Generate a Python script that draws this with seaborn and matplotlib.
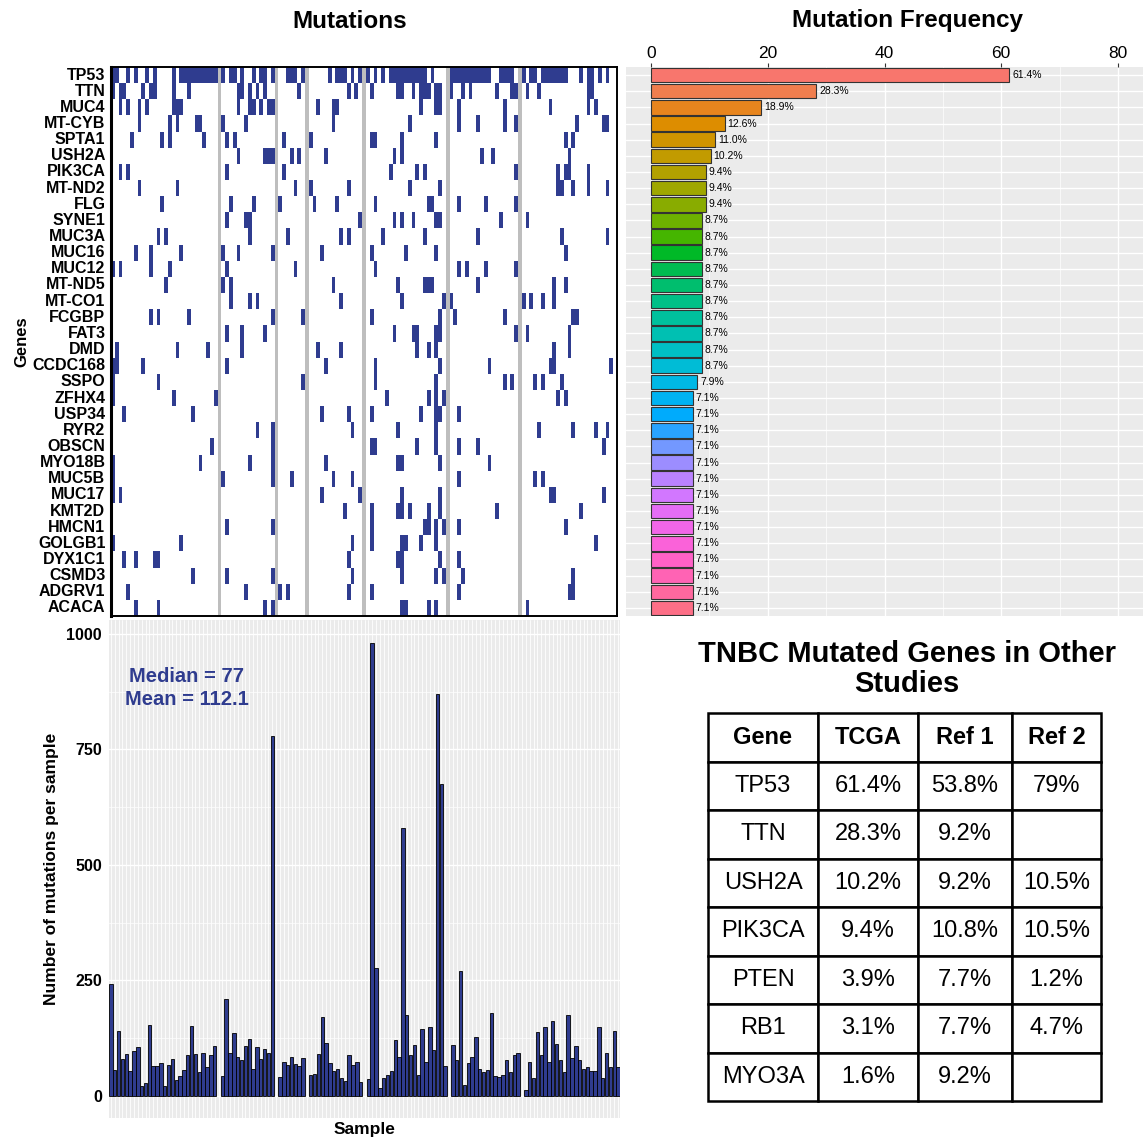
import numpy as np
import pandas as pd
import matplotlib
matplotlib.use("Agg")
import matplotlib.pyplot as plt
import seaborn as sns
from matplotlib.colors import ListedColormap

# genes shown in the oncoprint, top to bottom
genes = ["TP53", "TTN", "MUC4", "MT-CYB", "SPTA1", "USH2A", "PIK3CA", "MT-ND2", "FLG",
         "SYNE1", "MUC3A", "MUC16", "MUC12", "MT-ND5", "MT-CO1", "FCGBP", "FAT3", "DMD",
         "CCDC168", "SSPO", "ZFHX4", "USP34", "RYR2", "OBSCN", "MYO18B", "MUC5B", "MUC17",
         "KMT2D", "HMCN1", "GOLGB1", "DYX1C1", "CSMD3", "ADGRV1", "ACACA"]

# mutation frequency (%) per gene
freq = [61.4, 28.3, 18.9, 12.6, 11.0, 10.2, 9.4, 9.4, 9.4,
        8.7, 8.7, 8.7, 8.7, 8.7, 8.7, 8.7, 8.7, 8.7, 8.7,
        7.9, 7.1, 7.1, 7.1, 7.1, 7.1, 7.1, 7.1, 7.1, 7.1, 7.1, 7.1, 7.1, 7.1, 7.1]

# samples come in groups separated by a gray line
group_sizes = [28, 14, 7, 14, 21, 18, 25]

# mutated samples (0-based sample index) per gene
mutated = {
    "TP53": [0, 1, 4, 6, 9, 11, 16, 18, 19, 20, 21, 22, 23, 24, 25, 26, 27,
             28, 30, 31, 33, 36, 38, 39, 41, 44, 45, 46, 48, 54, 56, 57, 58, 60, 62,
             63, 65, 67, 69, 70, 71, 72, 73, 74, 75, 76, 77, 78, 80,
             84, 85, 86, 87, 88, 89, 90, 91, 92, 93, 94, 97, 98, 99, 100,
             102, 104, 105, 107, 108, 109, 110, 111, 112, 113, 117, 119, 120, 122, 124],
    "TTN": [0, 2, 3, 8, 10, 11, 16, 20, 32, 33, 35, 37, 39, 47, 59, 61, 64,
            71, 72, 75, 77, 78, 79, 81, 82, 84, 87, 89, 96, 100, 101, 103, 106, 119, 120],
    "MUC4": [2, 4, 7, 9, 16, 17, 18, 32, 35, 36, 38, 40, 41, 51, 55, 56, 77, 81, 82,
             86, 98, 109, 119, 121],
    "MT-CYB": [7, 15, 17, 22, 23, 28, 34, 55, 74, 86, 91, 98, 101, 116, 123, 124],
    "SPTA1": [5, 13, 15, 24, 29, 31, 43, 49, 64, 65, 72, 81, 113, 115],
    "USH2A": [32, 39, 40, 41, 45, 47, 53, 70, 72, 92, 95, 114],
    "PIK3CA": [2, 4, 29, 43, 69, 76, 78, 101, 111, 113, 114, 119],
    "MT-ND2": [7, 17, 46, 49, 59, 74, 82, 111, 112, 115, 119, 124],
    "FLG": [13, 30, 36, 42, 50, 56, 65, 79, 80, 86, 93, 101],
    "SYNE1": [29, 34, 35, 62, 70, 72, 75, 81, 82, 97, 103],
    "MUC3A": [12, 14, 35, 44, 57, 59, 67, 78, 91, 112, 124],
    "MUC16": [6, 10, 18, 28, 32, 41, 52, 64, 73, 81, 113],
    "MUC12": [0, 2, 10, 15, 29, 46, 65, 86, 88, 93, 101],
    "MT-ND5": [14, 28, 30, 55, 71, 78, 79, 80, 91, 110, 113],
    "MT-CO1": [30, 35, 37, 57, 72, 83, 84, 102, 104, 107, 110],
    "FCGBP": [10, 12, 20, 41, 48, 64, 82, 85, 98, 115, 116],
    "FAT3": [29, 33, 39, 70, 75, 76, 81, 82, 101, 103, 114],
    "DMD": [1, 17, 25, 33, 51, 57, 76, 79, 81, 110, 114],
    "CCDC168": [0, 1, 8, 29, 53, 65, 82, 94, 109, 110, 125],
    "SSPO": [0, 12, 48, 65, 81, 98, 100, 105, 107, 112],
    "ZFHX4": [0, 16, 27, 68, 79, 81, 83, 111, 113],
    "USP34": [3, 21, 52, 59, 64, 77, 81, 82, 86],
    "RYR2": [37, 41, 60, 71, 81, 106, 115, 121, 124],
    "OBSCN": [26, 41, 64, 65, 76, 81, 86, 91, 123],
    "MYO18B": [0, 23, 35, 41, 53, 71, 72, 82, 94],
    "MUC5B": [0, 28, 41, 45, 55, 60, 86, 105, 107],
    "MUC17": [0, 2, 52, 62, 72, 82, 109, 110, 123],
    "KMT2D": [58, 64, 71, 72, 74, 79, 82, 96, 117],
    "HMCN1": [29, 41, 64, 78, 79, 81, 83, 86, 113],
    "GOLGB1": [0, 18, 60, 64, 72, 73, 77, 81, 121],
    "DYX1C1": [3, 6, 11, 12, 59, 71, 72, 82, 86],
    "CSMD3": [21, 29, 41, 60, 72, 81, 83, 87, 115],
    "ADGRV1": [4, 34, 42, 44, 59, 64, 86, 114, 115],
    "ACACA": [6, 12, 39, 41, 72, 73, 79, 81, 103],
}

# total mutations per sample, same sample order
sample_counts = [241, 56, 140, 80, 91, 54, 98, 105, 21, 27, 154, 65, 65, 72, 22, 66, 79, 34,
                 42, 56, 89, 151, 91, 51, 92, 62, 88, 108,
                 43, 210, 93, 135, 83, 77, 108, 124, 58, 106, 80, 101, 93, 778,
                 41, 74, 67, 84, 69, 65, 82,
                 46, 48, 90, 171, 114, 72, 54, 58, 39, 32, 88, 67, 74, 30,
                 36, 980, 276, 18, 38, 45, 54, 120, 83, 580, 175, 89, 109, 46, 144, 74, 149,
                 99, 869, 674, 65,
                 111, 78, 270, 23, 71, 84, 128, 57, 52, 56, 179, 43, 41, 45, 78, 51, 89, 92,
                 13, 74, 39, 138, 89, 150, 74, 162, 112, 78, 51, 176, 82, 108, 78, 58, 62,
                 54, 54, 149, 39, 92, 63, 141, 63]
median_txt = "77"
mean_txt = "112.1"

# other studies table
tbl_genes = ["TP53", "TTN", "USH2A", "PIK3CA", "PTEN", "RB1", "MYO3A"]
tbl_tcga = ["61.4%", "28.3%", "10.2%", "9.4%", "3.9%", "3.1%", "1.6%"]
tbl_ref1 = ["53.8%", "9.2%", "9.2%", "10.8%", "7.7%", "7.7%", "9.2%"]
tbl_ref2 = ["79%", "", "10.5%", "10.5%", "1.2%", "4.7%", ""]

NAVY = "#2F3C8F"
SEP_GRAY = "#BEBEBE"
PANEL = "#EBEBEB"


def hcl_colors(n, c=100, l=65):
    # ggplot2 default hue palette (polar LUV -> sRGB)
    hues = np.linspace(15, 375, n + 1)[:-1]
    xn, yn, zn = 95.047, 100.0, 108.883
    un = 4 * xn / (xn + 15 * yn + 3 * zn)
    vn = 9 * yn / (xn + 15 * yn + 3 * zn)
    out = []
    for h in hues:
        u = c * np.cos(np.radians(h))
        v = c * np.sin(np.radians(h))
        Y = yn * ((l + 16) / 116) ** 3
        up = u / (13 * l) + un
        vp = v / (13 * l) + vn
        X = Y * 9 * up / (4 * vp)
        Z = Y * (12 - 3 * up - 20 * vp) / (4 * vp)
        X, Y, Z = X / 100, Y / 100, Z / 100
        rgb = [3.2404542 * X - 1.5371385 * Y - 0.4985314 * Z,
               -0.9692660 * X + 1.8760108 * Y + 0.0415560 * Z,
               0.0556434 * X - 0.2040259 * Y + 1.0572252 * Z]
        rgb = [12.92 * x if x <= 0.0031308 else 1.055 * x ** (1 / 2.4) - 0.055 for x in rgb]
        out.append(tuple(min(max(x, 0), 1) for x in rgb))
    return out


# column layout: samples of each group, then one separator column
slots = []
s = 0
for gi, size in enumerate(group_sizes):
    slots += list(range(s, s + size))
    s += size
    if gi < len(group_sizes) - 1:
        slots.append(None)
col_of = {smp: k for k, smp in enumerate(slots) if smp is not None}
ncol = len(slots)

mat = np.zeros((len(genes), ncol))
for k, smp in enumerate(slots):
    if smp is None:
        mat[:, k] = 2
for i, g in enumerate(genes):
    for smp in mutated[g]:
        mat[i, col_of[smp]] = 1

sns.set_style("white")
plt.rcParams["font.family"] = ["Liberation Sans", "DejaVu Sans"]
plt.rcParams["text.color"] = "black"
plt.rcParams["axes.labelcolor"] = "black"
plt.rcParams["xtick.color"] = "black"
plt.rcParams["ytick.color"] = "black"

W, H = 1146, 1140
fig = plt.figure(figsize=(W / 100, H / 100), dpi=100)


def box(x0, y0, x1, y1):
    return [x0 / W, 1 - y1 / H, (x1 - x0) / W, (y1 - y0) / H]


# ---- oncoprint ----
ax1 = fig.add_axes(box(111, 67, 617, 616))
sns.heatmap(mat, ax=ax1, cmap=ListedColormap(["white", NAVY, SEP_GRAY]), vmin=0, vmax=2,
            cbar=False, xticklabels=False, yticklabels=genes)
ax1.set_yticklabels(genes, rotation=0, fontsize=11.5, fontweight="bold")
ax1.tick_params(axis="y", length=3, width=0.8, pad=1, color="#333333")
for sp in ax1.spines.values():
    sp.set_visible(True)
    sp.set_linewidth(1.4)
    sp.set_color("black")
ax1.spines["left"].set_linewidth(2.2)
ax1.set_ylabel("Genes", fontsize=12, fontweight="bold", labelpad=2)
fig.text(350 / W, 1 - 21 / H, "Mutations", ha="center", va="center", fontsize=17.5, fontweight="bold")

# ---- mutation frequency ----
ax2 = fig.add_axes(box(626, 67, 1143, 616))
df_freq = pd.DataFrame({"gene": genes, "freq": freq})
sns.barplot(data=df_freq, x="freq", y="gene", hue="gene", order=genes, hue_order=genes,
            palette=hcl_colors(len(genes)), legend=False, saturation=1,
            edgecolor="#333333", linewidth=0.8, width=0.9, ax=ax2)
ax2.set_facecolor(PANEL)
ax2.set_axisbelow(True)
ax2.set_xlim(-4.3, 84.3)
ax2.set_ylim(33.5, -0.5)
ax2.set_xticks([0, 20, 40, 60, 80])
ax2.set_xticks([10, 30, 50, 70], minor=True)
ax2.grid(which="major", color="white", linewidth=1.0)
ax2.grid(which="minor", axis="x", color="white", linewidth=0.5)
ax2.xaxis.tick_top()
ax2.tick_params(axis="x", which="major", labelsize=12.5, length=3, color="#333333", pad=1)
ax2.tick_params(axis="x", which="minor", length=0)
ax2.tick_params(axis="y", length=3, color="#333333", labelleft=False)
ax2.set_xlabel("")
ax2.set_ylabel("")
for sp in ax2.spines.values():
    sp.set_visible(False)
for i, v in enumerate(freq):
    ax2.text(v + 0.5, i, f"{v:.1f}%", va="center", ha="left", fontsize=7.5)
fig.text(908 / W, 1 - 21 / H, "Mutation Frequency", ha="center", va="center",
         fontsize=17.5, fontweight="bold")

# ---- mutations per sample ----
ax3 = fig.add_axes(box(109, 620, 620, 1118))
df_cnt = pd.DataFrame({
    "slot": [str(k) for k in range(ncol)],
    "count": [np.nan if smp is None else sample_counts[smp] for smp in slots],
})
sns.barplot(data=df_cnt, x="slot", y="count", order=[str(k) for k in range(ncol)],
            color=NAVY, saturation=1, edgecolor="black", linewidth=0.6, width=0.9,
            errorbar=None, ax=ax3)
ax3.set_facecolor(PANEL)
ax3.set_axisbelow(True)
ax3.set_xlim(-0.5, ncol - 0.5)
ax3.set_ylim(-48, 1030)
ax3.set_yticks([0, 250, 500, 750, 1000])
ax3.set_yticks([125, 375, 625, 875], minor=True)
ax3.grid(axis="x", color="white", linewidth=0.6)
ax3.grid(axis="y", which="major", color="white", linewidth=1.0)
ax3.grid(axis="y", which="minor", color="white", linewidth=0.5)
ax3.set_xticks(range(ncol))
ax3.set_xticklabels([])
ax3.tick_params(axis="x", length=2.5, width=0.5, color="#333333")
ax3.tick_params(axis="y", which="major", length=3, color="#333333", labelsize=11.5, pad=2)
ax3.tick_params(axis="y", which="minor", length=0)
for t in ax3.get_yticklabels():
    t.set_fontweight("bold")
for sp in ax3.spines.values():
    sp.set_visible(False)
ax3.set_xlabel("Sample", fontsize=12.5, fontweight="bold", va="top")
ax3.xaxis.set_label_coords(0.5, -0.008)
ax3.set_ylabel("Number of mutations per sample", fontsize=12.5, fontweight="bold", labelpad=5)
ax3.text(19.8, 883, f"Median = {median_txt}\nMean = {mean_txt}", ha="center", va="center",
         fontsize=14.5, fontweight="bold", color=NAVY, linespacing=1.25)

# ---- other studies table ----
fig.text(907 / W, 1 - 669 / H, "TNBC Mutated Genes in Other\nStudies", ha="center", va="center",
         fontsize=21, fontweight="bold", linespacing=1.05)
ax4 = fig.add_axes(box(708, 713, 1101, 1101))
ax4.axis("off")
rows = [[g, a, b, c] for g, a, b, c in zip(tbl_genes, tbl_tcga, tbl_ref1, tbl_ref2)]
tbl = ax4.table(cellText=rows, colLabels=["Gene", "TCGA", "Ref 1", "Ref 2"],
                colWidths=[110 / 393, 100 / 393, 94 / 393, 89 / 393],
                cellLoc="center", bbox=[0, 0, 1, 1])
tbl.auto_set_font_size(False)
tbl.set_fontsize(17)
for (r, c), cell in tbl.get_celld().items():
    cell.set_linewidth(1.8)
    cell.set_edgecolor("black")
    if r == 0:
        cell.get_text().set_fontweight("bold")

fig.savefig("out.png", dpi=100)
